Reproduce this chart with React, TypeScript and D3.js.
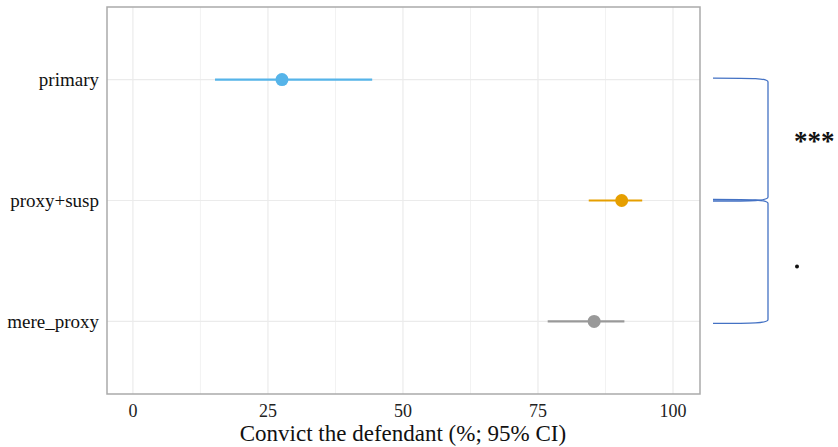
import React from "react";
import * as d3 from "d3";

const categories = ["primary", "proxy+susp", "mere_proxy"];
const estimates = [27.6, 90.5, 85.4];
const lower = [15.2, 84.4, 76.8];
const upper = [44.3, 94.3, 91.0];
const colors = ["#56B4E9", "#E69F00", "#999999"];
const xTicks = [0, 25, 50, 75, 100];
const xMinor = [12.5, 37.5, 62.5, 87.5];
const xTitle = "Convict the defendant (%; 95% CI)";
const brackets = [
  { from: "primary", to: "proxy+susp", label: "***" },
  { from: "proxy+susp", to: "mere_proxy", label: "." },
];

const W = 838;
const H = 447;
const panel = { left: 107, right: 700, top: 7, bottom: 394 };
const font = "'Liberation Serif', 'Times New Roman', serif";

export default function App() {
  const x = d3.scaleLinear().domain([-4.8, 105]).range([panel.left, panel.right]);
  const y = d3
    .scalePoint<string>()
    .domain(categories)
    .range([panel.top, panel.bottom])
    .padding(0.6);

  const bracketPath = (y1: number, y2: number) => {
    const x0 = 713;
    const x1 = 768;
    return `M${x0},${y1} C${x0 + 40},${y1} ${x1},${y1} ${x1},${y1 + 4} L${x1},${y2 - 4} C${x1},${y2} ${x0 + 40},${y2} ${x0},${y2}`;
  };

  return (
    <svg width={W} height={H} style={{ position: "absolute", left: 0, top: 0 }}>
      <rect x={0} y={0} width={W} height={H} fill="#fff" />
      {xMinor.map((t) => (
        <line key={"m" + t} x1={x(t)} x2={x(t)} y1={panel.top} y2={panel.bottom} stroke="#f2f2f2" strokeWidth={1} />
      ))}
      {xTicks.map((t) => (
        <line key={"g" + t} x1={x(t)} x2={x(t)} y1={panel.top} y2={panel.bottom} stroke="#ebebeb" strokeWidth={1.2} />
      ))}
      {categories.map((c) => (
        <line key={"h" + c} x1={panel.left} x2={panel.right} y1={y(c)} y2={y(c)} stroke="#ebebeb" strokeWidth={1.2} />
      ))}
      <rect
        x={panel.left}
        y={panel.top}
        width={panel.right - panel.left}
        height={panel.bottom - panel.top}
        fill="none"
        stroke="#aaaaaa"
        strokeWidth={1.5}
      />
      {categories.map((c, i) => (
        <g key={"d" + c}>
          <line x1={x(lower[i])} x2={x(upper[i])} y1={y(c)} y2={y(c)} stroke={colors[i]} strokeWidth={2.2} />
          <circle cx={x(estimates[i])} cy={y(c)} r={6.5} fill={colors[i]} />
        </g>
      ))}
      {categories.map((c) => (
        <text key={"yl" + c} x={99} y={y(c)} dy="0.32em" textAnchor="end" fontFamily={font} fontSize={19} fill="#111">
          {c}
        </text>
      ))}
      {xTicks.map((t) => (
        <text key={"xl" + t} x={x(t)} y={417} textAnchor="middle" fontFamily={font} fontSize={18} fill="#222">
          {t}
        </text>
      ))}
      <text x={x(50)} y={441} textAnchor="middle" fontFamily={font} fontSize={23} fill="#111">
        {xTitle}
      </text>
      {brackets.map((b, i) => {
        const y1 = (y(b.from) as number) - 1.5 + (i === 1 ? 0.5 : 0);
        const y2 = (y(b.to) as number) + 0.5 + (i === 1 ? 1.5 : 0);
        return (
          <g key={"b" + i}>
            <path d={bracketPath(y1, y2)} fill="none" stroke="#4472C4" strokeWidth={1.3} />
            {b.label === "." ? (
              <circle cx={797} cy={(y1 + y2) / 2 + 5} r={2} fill="#111" />
            ) : (
              <text x={794} y={(y1 + y2) / 2 + 10} fontFamily={font} fontSize={27} fontWeight="bold" fill="#111">
                {b.label}
              </text>
            )}
          </g>
        );
      })}
    </svg>
  );
}
